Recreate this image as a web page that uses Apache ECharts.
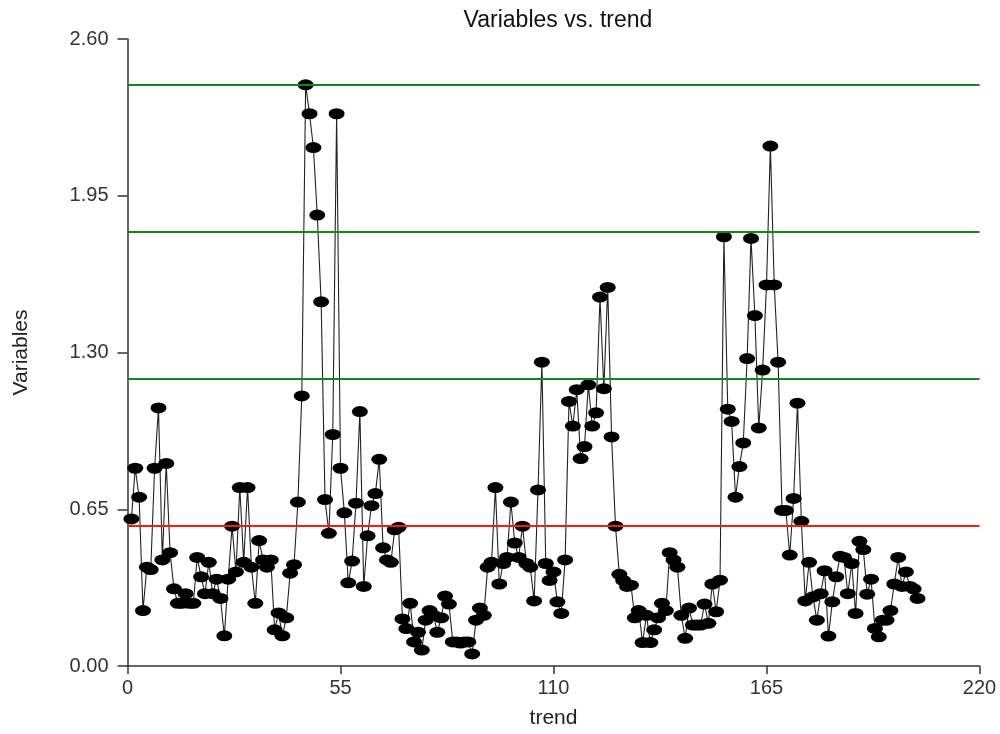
<!DOCTYPE html>
<html>
<head>
<meta charset="utf-8">
<script src="https://cdn.jsdelivr.net/npm/echarts@6/dist/echarts.min.js"></script>
<style>
  html, body { margin: 0; padding: 0; background: #ffffff; }
  #chart { width: 1000px; height: 734px; }
</style>
</head>
<body>
<div id="chart"></div>
<script>
// ---- data ----
const titleText = 'Variables vs. trend';
const xAxisName = 'trend';
const yAxisName = 'Variables';
const xTicks = [0, 55, 110, 165, 220];
const yTicks = [0.00, 0.65, 1.30, 1.95, 2.60];

// observations, trend = 1, 2, 3, ...
const variables = [
  0.61, 0.82, 0.70, 0.23, 0.41, 0.40, 0.82, 1.07, 0.44, 0.84,
  0.47, 0.32, 0.26, 0.26, 0.30, 0.26, 0.26, 0.45, 0.37, 0.30,
  0.43, 0.30, 0.36, 0.28, 0.125, 0.36, 0.58, 0.39, 0.74, 0.43,
  0.74, 0.41, 0.26, 0.52, 0.44, 0.41, 0.44, 0.15, 0.22, 0.125,
  0.20, 0.385, 0.42, 0.68, 1.12, 2.41, 2.29, 2.15, 1.87, 1.51,
  0.69, 0.55, 0.96, 2.29, 0.82, 0.635, 0.345, 0.435, 0.675, 1.055,
  0.33, 0.54, 0.665, 0.715, 0.857, 0.49, 0.44, 0.43, 0.565, 0.575,
  0.195, 0.155, 0.26, 0.10, 0.14, 0.066, 0.19, 0.23, 0.21, 0.14,
  0.20, 0.29, 0.257, 0.10, 0.10, 0.095, 0.10, 0.10, 0.05, 0.19,
  0.24, 0.21, 0.41, 0.43, 0.74, 0.34, 0.425, 0.45, 0.68, 0.51,
  0.45, 0.58, 0.425, 0.41, 0.27, 0.73, 1.26, 0.425, 0.355, 0.39,
  0.266, 0.218, 0.44, 1.097, 0.995, 1.146, 0.86, 0.91, 1.166, 0.995,
  1.05, 1.53, 1.15, 1.57, 0.95, 0.58, 0.38, 0.355, 0.33, 0.335,
  0.20, 0.23, 0.097, 0.21, 0.097, 0.15, 0.20, 0.26, 0.23, 0.47,
  0.44, 0.41, 0.21, 0.115, 0.24, 0.17, 0.17, 0.17, 0.257, 0.177,
  0.34, 0.225, 0.356, 1.78, 1.065, 1.014, 0.70, 0.827, 0.925, 1.275,
  1.773, 1.453, 0.987, 1.227, 1.58, 2.156, 1.58, 1.26, 0.645, 0.645,
  0.46, 0.695, 1.09, 0.60, 0.27, 0.43, 0.287, 0.19, 0.30, 0.395,
  0.124, 0.266, 0.37, 0.455, 0.45, 0.30, 0.425, 0.218, 0.517, 0.483,
  0.298, 0.36, 0.156, 0.121, 0.19, 0.19, 0.23, 0.34, 0.45, 0.33,
  0.39, 0.33, 0.32, 0.28
];

// reference levels
const centerLevel = [0.576];
const upperLevels = [1.186, 1.797, 2.406];

// ---- chart ----
const FONT = 'Liberation Sans, Arial, sans-serif';
const points = variables.map((v, i) => [i + 1, v]);

const chart = echarts.init(document.getElementById('chart'), null, { renderer: 'canvas' });
chart.setOption({
  animation: false,
  backgroundColor: '#ffffff',
  title: {
    text: titleText,
    left: 553, top: 4, textAlign: 'center',
    textStyle: { fontFamily: FONT, fontSize: 23, fontWeight: 'normal', color: '#111' }
  },
  grid: { left: 127.5, right: 20.5, top: 39, bottom: 68, outerBoundsMode: 'none' },
  xAxis: {
    type: 'value',
    min: xTicks[0], max: xTicks[xTicks.length - 1], interval: xTicks[1] - xTicks[0],
    name: xAxisName, nameLocation: 'middle', nameGap: 42,
    nameTextStyle: { fontFamily: FONT, fontSize: 21, color: '#222' },
    axisLine: { show: true, onZero: false, lineStyle: { color: '#333', width: 1.5 } },
    axisTick: { show: true, length: 8, lineStyle: { color: '#333', width: 1.5 } },
    axisLabel: { margin: 12, fontFamily: FONT, fontSize: 20, color: '#333' },
    splitLine: { show: false }
  },
  yAxis: {
    type: 'value',
    min: yTicks[0], max: yTicks[yTicks.length - 1], interval: yTicks[1] - yTicks[0],
    name: yAxisName, nameLocation: 'middle', nameGap: 96, nameRotate: 90,
    nameTextStyle: { fontFamily: FONT, fontSize: 21, color: '#222' },
    axisLine: { show: true, onZero: false, lineStyle: { color: '#333', width: 1.5 } },
    axisTick: { show: true, length: 10, lineStyle: { color: '#333', width: 1.5 } },
    axisLabel: { margin: 19, fontFamily: FONT, fontSize: 20, color: '#333',
      formatter: v => v.toFixed(2) },
    splitLine: { show: false }
  },
  series: [
    {
      type: 'line', data: [], z: 1, silent: true,
      markLine: {
        silent: true, symbol: ['none', 'none'], label: { show: false },
        data: [
          ...upperLevels.map(y => ({ yAxis: y, lineStyle: { color: '#13861a', width: 2, type: 'solid' } })),
          ...centerLevel.map(y => ({ yAxis: y, lineStyle: { color: '#f01e12', width: 2, type: 'solid' } }))
        ]
      }
    },
    {
      type: 'line', data: points, z: 3,
      lineStyle: { color: '#222', width: 1.1 },
      symbol: 'circle', symbolSize: [16, 11], showAllSymbol: true,
      itemStyle: { color: '#000', borderWidth: 0 }
    }
  ]
});
</script>
</body>
</html>
